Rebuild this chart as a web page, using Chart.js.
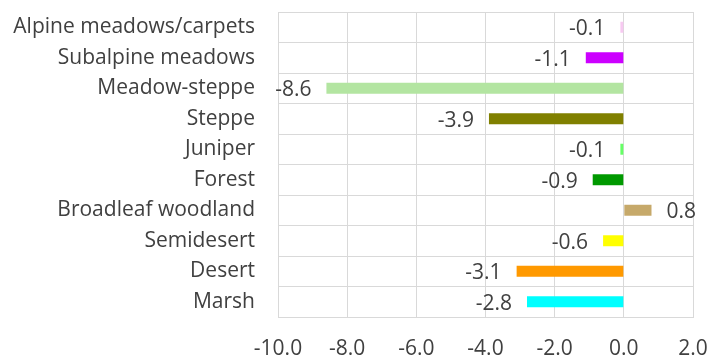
<!DOCTYPE html>
<html>
<head>
<meta charset="utf-8">
<script src="https://cdn.jsdelivr.net/npm/chart.js@4/dist/chart.umd.min.js"></script>
<style>
  html, body { margin: 0; padding: 0; background: #fff; }
  #wrap { width: 726px; height: 359px; }
</style>
</head>
<body>
<div id="wrap"><canvas id="chart" width="726" height="359"></canvas></div>
<script>
const categories = [
  'Alpine meadows/carpets', 'Subalpine meadows', 'Meadow-steppe', 'Steppe', 'Juniper',
  'Forest', 'Broadleaf woodland', 'Semidesert', 'Desert', 'Marsh'
];
const values = [-0.1, -1.1, -8.6, -3.9, -0.1, -0.9, 0.8, -0.6, -3.1, -2.8];
const barColors = [
  '#f7c9f1', '#cc00ff', '#b3e5a1', '#808000', '#66ff66',
  '#009900', '#c6a96a', '#ffff00', '#ff9900', '#00ffff'
];
const xMin = -10, xMax = 2, xStep = 2;

const FONT = 'Open Sans';
const FONT_SIZE = 21;
const TEXT = '#404040';
const GRID = '#d9d9d9';

// ── Value labels at bar ends ──────────────────────────────
const valueLabels = {
  id: 'valueLabels',
  afterDatasetsDraw(chart) {
    const ctx = chart.ctx;
    const meta = chart.getDatasetMeta(0);
    ctx.save();
    ctx.font = `${FONT_SIZE}px "${FONT}"`;
    ctx.fillStyle = TEXT;
    ctx.textBaseline = 'middle';
    meta.data.forEach((bar, i) => {
      const v = values[i];
      const txt = v.toFixed(1);
      if (v < 0) {
        ctx.textAlign = 'right';
        ctx.fillText(txt, bar.x - 15, bar.y + 2);
      } else {
        ctx.textAlign = 'left';
        ctx.fillText(txt, bar.x + 15, bar.y + 2);
      }
    });
    ctx.restore();
  }
};

new Chart(document.getElementById('chart'), {
  type: 'bar',
  data: {
    labels: categories,
    datasets: [{
      data: values,
      backgroundColor: barColors,
      borderWidth: 0,
      categoryPercentage: 1,
      barPercentage: 0.36,
    }]
  },
  options: {
    indexAxis: 'y',
    responsive: false,
    animation: false,
    layout: { padding: { top: 12, right: 33, left: 0, bottom: 0 } },
    plugins: {
      legend: { display: false },
      tooltip: { enabled: false }
    },
    scales: {
      x: {
        min: xMin,
        max: xMax,
        grid: { color: GRID, lineWidth: 1, tickLength: 20, tickColor: 'rgba(0,0,0,0)' },
        border: { color: GRID },
        ticks: {
          stepSize: xStep,
          color: TEXT,
          padding: 0,
          font: { family: FONT, size: FONT_SIZE, lineHeight: 1.1 },
          callback: v => Number(v).toFixed(1)
        },
        afterFit: s => { s.height = 42; }
      },
      y: {
        grid: { color: GRID, lineWidth: 1, offset: true, tickLength: 23, tickColor: 'rgba(0,0,0,0)' },
        border: { color: GRID },
        ticks: {
          color: TEXT,
          padding: 0,
          font: { family: FONT, size: FONT_SIZE, lineHeight: 1.1 }
        },
        afterFit: s => { s.width = 278; }
      }
    }
  },
  plugins: [valueLabels]
});
</script>
</body>
</html>
